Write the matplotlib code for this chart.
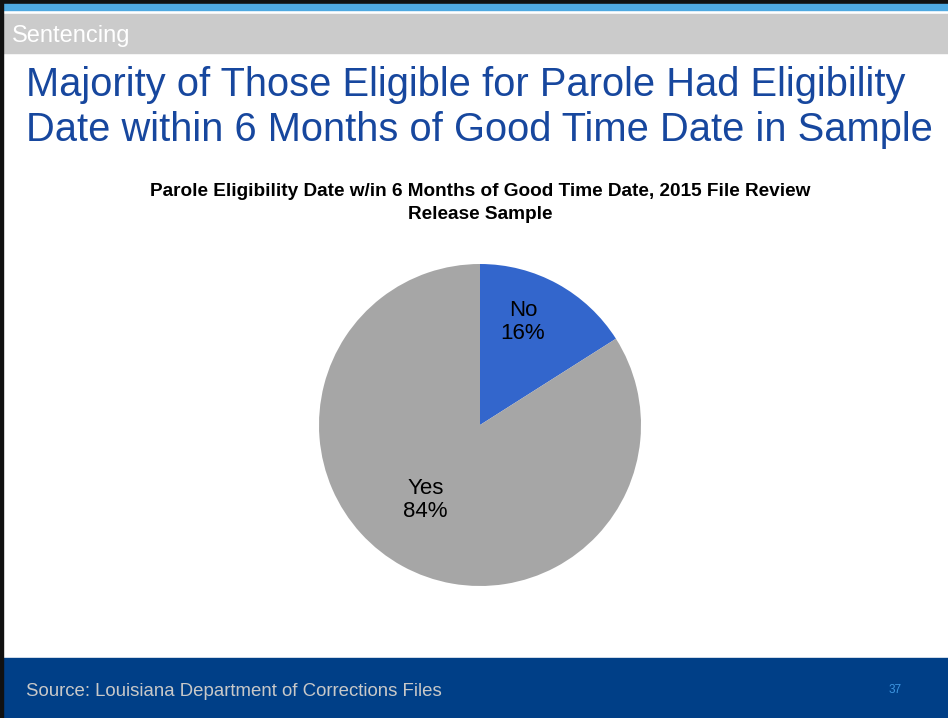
import matplotlib
matplotlib.use("Agg")
import matplotlib.pyplot as plt
from matplotlib.patches import Rectangle

plt.rcParams["font.family"] = ["Liberation Sans", "DejaVu Sans"]

# data
labels = ["No", "Yes"]
shares = [16, 84]
colors = ["#3366cc", "#a6a6a6"]

W, H = 948, 718
fig = plt.figure(figsize=(W / 100, H / 100), dpi=100)


def band(x0, y0, x1, y1, color):
    # rectangle in pixel coordinates (origin top-left)
    fig.patches.append(Rectangle((x0 / W, 1 - y1 / H), (x1 - x0) / W, (y1 - y0) / H,
                                 transform=fig.transFigure, color=color, zorder=0))


# slide frame
band(0, 0, W, 4, "#111111")
band(0, 4, W, 10, "#4fa9e1")
band(0, 14, W, 53, "#cbcbcb")
band(0, 658, W, H, "#003f87")
band(0, 0, 3, H, "#111111")

fig.text(12 / W, 1 - 36 / H, "Sentencing", color="white", fontsize=17, va="center")
fig.text(26 / W, 1 - 85 / H, "Majority of Those Eligible for Parole Had Eligibility",
         color="#17479e", fontsize=28.7, va="center")
fig.text(26 / W, 1 - 130 / H, "Date within 6 Months of Good Time Date in Sample",
         color="#17479e", fontsize=28.7, va="center")

fig.text(480 / W, 1 - 192 / H, "Parole Eligibility Date w/in 6 Months of Good Time Date, 2015 File Review",
         ha="center", va="center", fontsize=13.7, fontweight="bold")
fig.text(480 / W, 1 - 215 / H, "Release Sample",
         ha="center", va="center", fontsize=13.7, fontweight="bold")

fig.text(26 / W, 1 - 691 / H, "Source: Louisiana Department of Corrections Files",
         color="#c8c8c8", fontsize=13.4, va="center")
fig.text(889 / W, 1 - 690 / H, "37", color="#3d95e0", fontsize=8.5, va="center")

# pie
cx, cy, r = 480, 425, 161
ax = fig.add_axes([(cx - r) / W, 1 - (cy + r) / H, 2 * r / W, 2 * r / H])
ax.pie(shares, colors=colors, startangle=90, counterclock=False,
       radius=1, wedgeprops=dict(linewidth=0))
ax.set_xlim(-1, 1)
ax.set_ylim(-1, 1)
ax.set_aspect("equal")
ax.axis("off")

# wedge labels
ax.text(0.267, 0.64, f"{labels[0]}\n{shares[0]}%", ha="center", va="center",
        fontsize=16, linespacing=1.15)
ax.text(-0.34, -0.466, f"{labels[1]}\n{shares[1]}%", ha="center", va="center",
        fontsize=16, linespacing=1.15)

fig.savefig("out.png", dpi=100)
